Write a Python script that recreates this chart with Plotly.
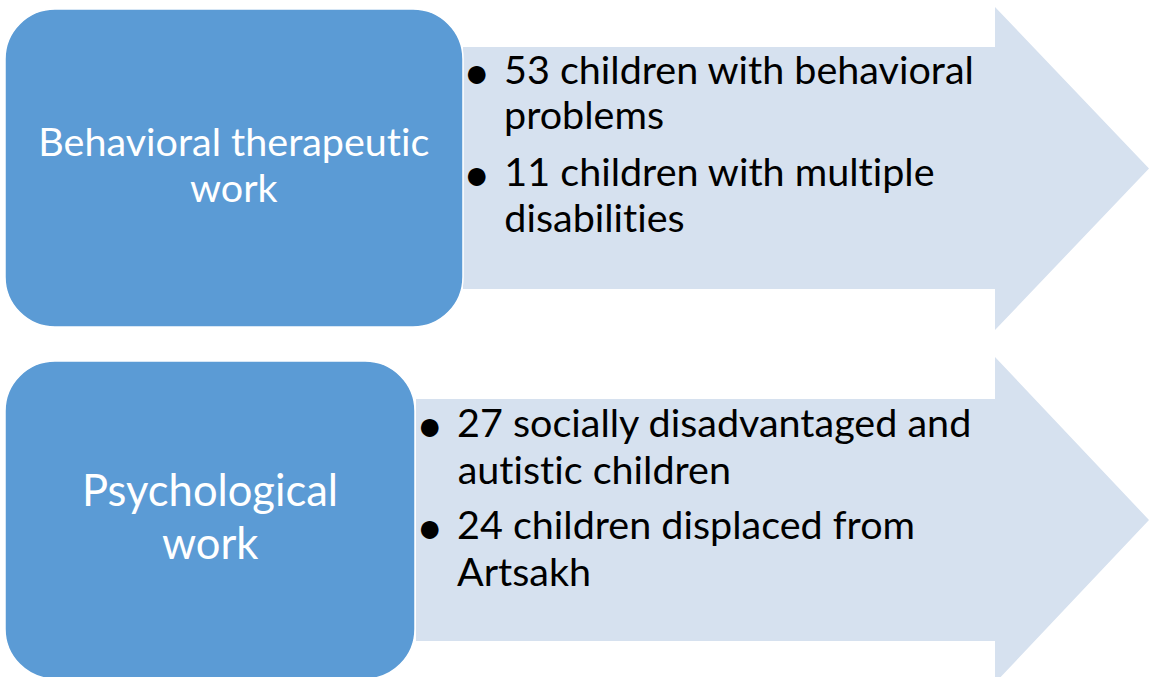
import plotly.graph_objects as go

W, H = 1149, 677

# ---- content ----
group_titles = [["Behavioral therapeutic", "work"], ["Psychological", "work"]]
group_items = [
    [["53 children with behavioral", "problems"], ["11 children with multiple", "disabilities"]],
    [["27 socially disadvantaged and", "autistic children"], ["24 children displaced from", "Artsakh"]],
]

# ---- layout geometry (pixels) ----
boxes = [(5, 9, 463, 327), (5, 361, 415, 679)]
arrows = [
    dict(x0=463, y0=47, y1=289, hx=995, hy0=7, hy1=330, tip=1149),
    dict(x0=416, y0=399, y1=641, hx=995, hy0=357, hy1=683, tip=1149),
]
title_sizes = [39.5, 43.5]
title_baselines = [[157, 203], [507, 560]]
item_size = [39.5, 39.5]
item_bullet_x = [477, 430]
item_text_x = [502, 455]
item_baselines = [[[85, 130], [187, 233]], [[438, 485], [540, 587]]]

BOX_COLOR = "#5B9BD5"
ARROW_COLOR = "#D6E1EF"
FONT = "Lato"


def rounded_rect(x0, y0, x1, y1, r):
    k = 0.5523 * r
    return (
        f"M {x0 + r},{y0} L {x1 - r},{y0} "
        f"C {x1 - r + k},{y0} {x1},{y0 + r - k} {x1},{y0 + r} "
        f"L {x1},{y1 - r} "
        f"C {x1},{y1 - r + k} {x1 - r + k},{y1} {x1 - r},{y1} "
        f"L {x0 + r},{y1} "
        f"C {x0 + r - k},{y1} {x0},{y1 - r + k} {x0},{y1 - r} "
        f"L {x0},{y0 + r} "
        f"C {x0},{y0 + r - k} {x0 + r - k},{y0} {x0 + r},{y0} Z"
    )


def arrow_path(a):
    cy = (a["hy0"] + a["hy1"]) / 2
    return (
        f"M {a['x0']},{a['y0']} L {a['hx']},{a['y0']} L {a['hx']},{a['hy0']} "
        f"L {a['tip']},{cy} L {a['hx']},{a['hy1']} L {a['hx']},{a['y1']} "
        f"L {a['x0']},{a['y1']} Z"
    )


shapes = []
for a in arrows:
    shapes.append(dict(type="path", path=arrow_path(a), xref="x", yref="y",
                       fillcolor=ARROW_COLOR, line=dict(width=0)))
for (x0, y0, x1, y1) in boxes:
    shapes.append(dict(type="path", path=rounded_rect(x0, y0, x1, y1, 50), xref="x", yref="y",
                       fillcolor=BOX_COLOR, line=dict(color="white", width=1.5)))

annotations = []


def line_ann(text, x, y, size, color, xanchor):
    return dict(text=text, x=x, y=y, xref="x", yref="y",
                xanchor=xanchor, yanchor="middle", showarrow=False,
                font=dict(family=FONT, size=size, color=color))


for g in range(2):
    x0, y0, x1, y1 = boxes[g]
    cx = (x0 + x1) / 2
    s = title_sizes[g]
    for line, b in zip(group_titles[g], title_baselines[g]):
        annotations.append(line_ann(line, cx, b - 0.42 * s, s, "white", "center"))
    s = item_size[g]
    for item, bls in zip(group_items[g], item_baselines[g]):
        annotations.append(line_ann("•", item_bullet_x[g], bls[0] - 15, s * 1.2, "black", "center"))
        for line, b in zip(item, bls):
            annotations.append(line_ann(line, item_text_x[g], b - 0.42 * s, s, "black", "left"))

fig = go.Figure()
fig.update_layout(
    width=W, height=H, margin=dict(l=0, r=0, t=0, b=0),
    paper_bgcolor="white", plot_bgcolor="white",
    xaxis=dict(range=[0, W], visible=False, fixedrange=True),
    yaxis=dict(range=[H, 0], visible=False, fixedrange=True),
    shapes=shapes, annotations=annotations, showlegend=False,
)
post = (
    "document.body.style.margin='0';document.body.style.overflow='hidden';"
    "var st=document.createElement('style');"
    "st.textContent='text{font-variant-ligatures:none !important;}';"
    "document.head.appendChild(st);"
)
fig.write_html("out.html", post_script=post, config={"displayModeBar": False})
